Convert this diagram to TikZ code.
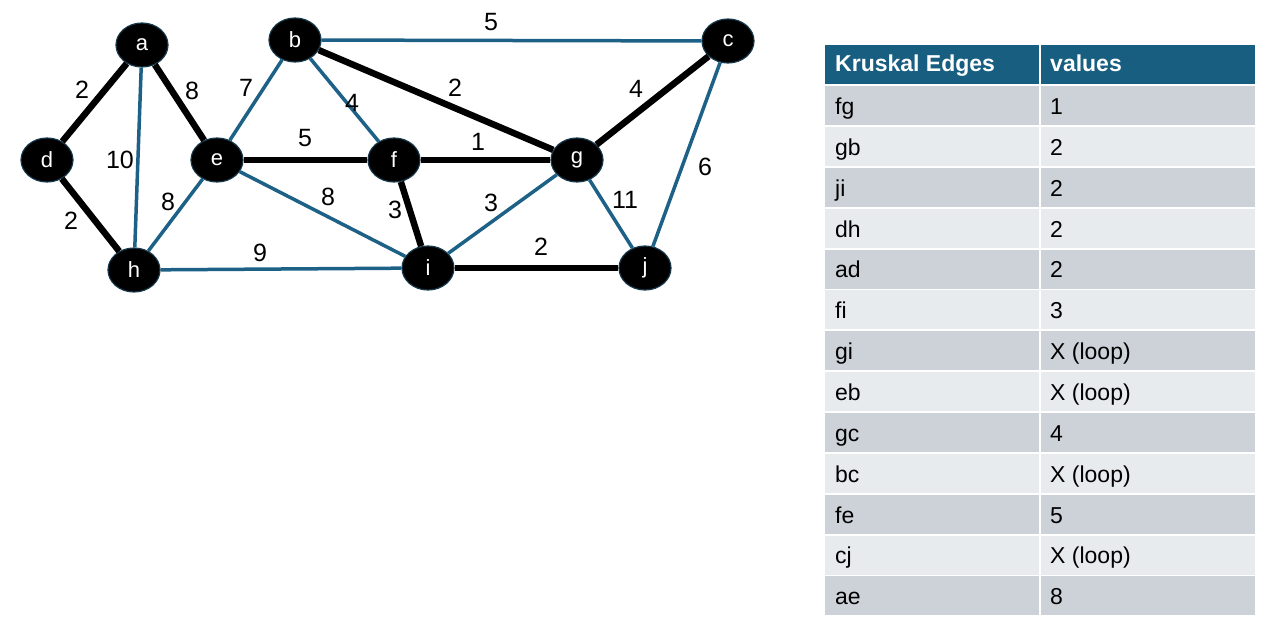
\documentclass[tikz,border=0pt]{standalone}
\usepackage{fontspec}
\setmainfont{Liberation Sans}
\usetikzlibrary{shapes.geometric}
\definecolor{edgeteal}{HTML}{1D6286}
\definecolor{headteal}{HTML}{185E81}
\definecolor{nodeedge}{HTML}{16384A}
\definecolor{rowdark}{HTML}{CDD2D9}
\definecolor{rowlight}{HTML}{E8EBEE}
\begin{document}
\begin{tikzpicture}[x=1pt,y=-1pt,
  vtx/.style={ellipse,fill=black,draw=nodeedge,line width=1.2pt,minimum width=52pt,minimum height=44pt,inner sep=0pt,text=white,font=\fontsize{22}{26}\selectfont},
  mst/.style={line width=6.5pt,black},
  oth/.style={line width=3.5pt,edgeteal},
  wl/.style={font=\fontsize{25}{29}\selectfont,inner sep=0pt},
  cell/.style={rectangle,anchor=north west,minimum height=39pt,minimum width=214pt,inner sep=0pt},
  ctext/.style={anchor=base west,inner sep=0pt,font=\fontsize{23}{27}\selectfont}]
\path[use as bounding box,fill=white] (0,0) rectangle (1269,631);
% vertices
\node[vtx] (a) at (142,45) {a};
\node[vtx] (b) at (295,40) {b};
\node[vtx] (c) at (728,41) {c};
\node[vtx] (d) at (47,160) {d};
\node[vtx] (e) at (217,160) {e};
\node[vtx] (f) at (394,160) {f};
\node[vtx] (g) at (577,160) {g};
\node[vtx] (h) at (134,270) {h};
\node[vtx] (i) at (428,268) {i};
\node[vtx] (j) at (645,268) {j};
% non-tree edges
\draw[oth] (a) -- (h);
\draw[oth] (b) -- (c);
\draw[oth] (b) -- (e);
\draw[oth] (b) -- (f);
\draw[oth] (e) -- (h);
\draw[oth] (e) -- (i);
\draw[oth] (h) -- (i);
\draw[oth] (g) -- (i);
\draw[oth] (g) -- (j);
\draw[oth] (c) -- (j);
% tree edges
\draw[mst] (a) -- (d);
\draw[mst] (d) -- (h);
\draw[mst] (a) -- (e);
\draw[mst] (e) -- (f);
\draw[mst] (f) -- (g);
\draw[mst] (b) -- (g);
\draw[mst] (g) -- (c);
\draw[mst] (f) -- (i);
\draw[mst] (i) -- (j);
% weights
\node[wl] (wad) at (82,90) {2};
\node[wl] (wdh) at (71,221) {2};
\node[wl] (wah) at (120,160) {10};
\node[wl] (wae) at (192,91) {8};
\node[wl] (weh) at (168,202) {8};
\node[wl] (wbe) at (246,88) {7};
\node[wl] (wbf) at (352,103) {4};
\node[wl] (wef) at (305,138) {5};
\node[wl] (wei) at (328,197) {8};
\node[wl] (wfi) at (395,210) {3};
\node[wl] (whi) at (260,253) {9};
\node[wl] (wbc) at (491,22) {5};
\node[wl] (wbg) at (455,88) {2};
\node[wl] (wfg) at (478,142) {1};
\node[wl] (wgi) at (491,203) {3};
\node[wl] (wij) at (541,247) {2};
\node[wl] (wgc) at (636,89) {4};
\node[wl] (wgj) at (625,200) {11};
\node[wl] (wcj) at (705,167) {6};
% table header
\node[cell,fill=headteal] (h1) at (825,45) {};
\node[cell,fill=headteal] (h2) at (1041,45) {};
\node[ctext,text=white,font=\fontsize{23}{27}\selectfont\bfseries] (ht1) at (835,72) {Kruskal Edges};
\node[ctext,text=white,font=\fontsize{23}{27}\selectfont\bfseries] (ht2) at (1050,72) {values};
% table rows
\foreach \ed/\val [count=\k from 0] in {fg/1,gb/2,ji/2,dh/2,ad/2,fi/3,gi/X (loop),eb/X (loop),gc/4,bc/X (loop),fe/5,cj/X (loop),ae/8}{
  \pgfmathsetmacro{\yy}{86+40.85*\k}
  \pgfmathsetmacro{\yb}{\yy+28.5}
  \ifodd\k \def\rc{rowlight}\else\def\rc{rowdark}\fi
  \node[cell,fill=\rc] (ea\k) at (825,\yy) {};
  \node[cell,fill=\rc] (eb\k) at (1041,\yy) {};
  \node[ctext] (ta\k) at (835,\yb) {\ed};
  \node[ctext] (tb\k) at (1050,\yb) {\val};
}
\end{tikzpicture}
\end{document}
